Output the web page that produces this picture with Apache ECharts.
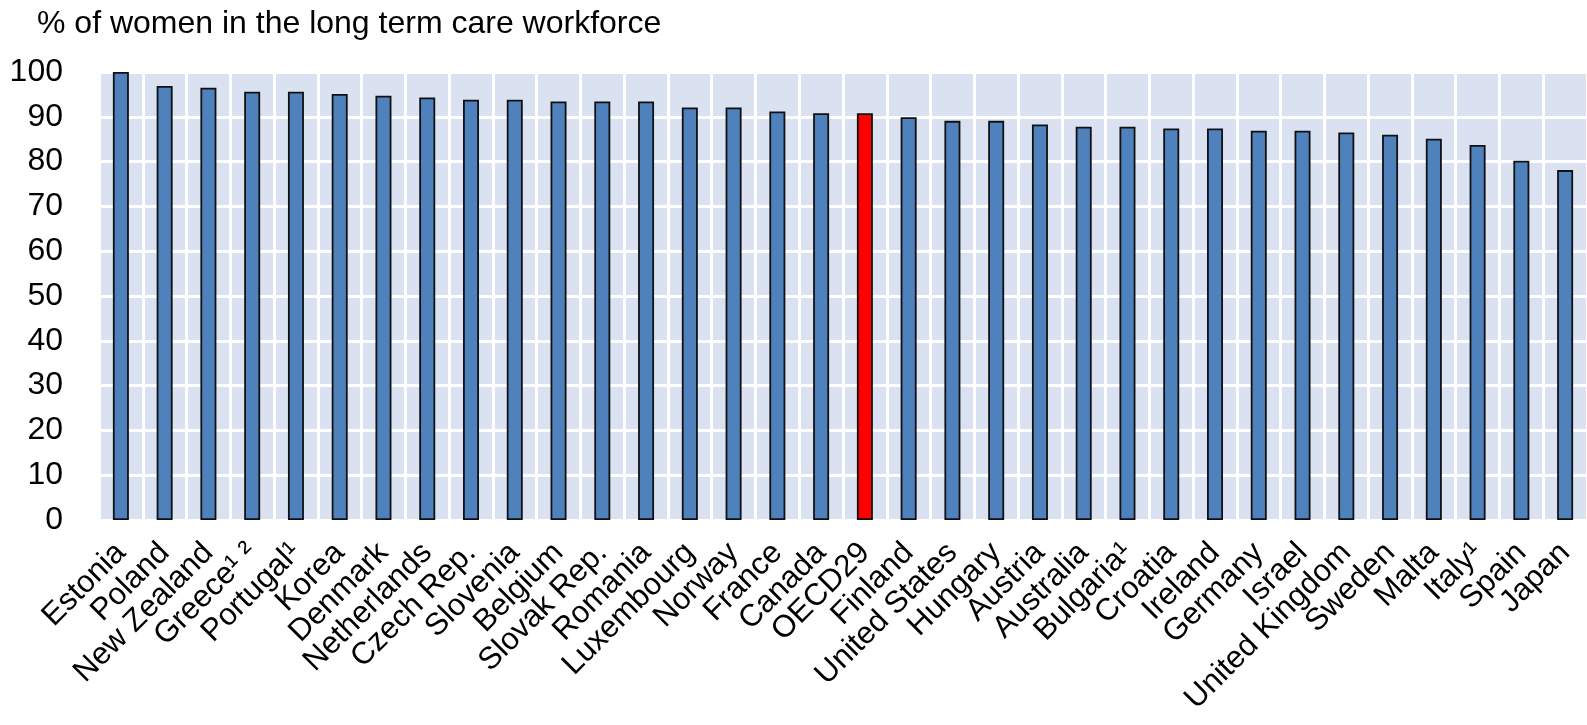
<!DOCTYPE html>
<html>
<head>
<meta charset="utf-8">
<script src="https://cdn.jsdelivr.net/npm/echarts@6/dist/echarts.min.js"></script>
<style>
html,body{margin:0;padding:0;background:#fff;}
#chart{width:1587px;height:725px;}
</style>
</head>
<body>
<div id="chart"></div>
<script>
const categories = ["Estonia","Poland","New Zealand","Greece¹ ²","Portugal¹","Korea","Denmark","Netherlands","Czech Rep.","Slovenia","Belgium","Slovak Rep.","Romania","Luxembourg","Norway","France","Canada","OECD29","Finland","United States","Hungary","Austria","Australia","Bulgaria¹","Croatia","Ireland","Germany","Israel","United Kingdom","Sweden","Malta","Italy¹","Spain","Japan"];
const values = [100,96.9,96.5,95.6,95.6,95.1,94.7,94.3,93.8,93.8,93.4,93.4,93.4,92.1,92.1,91.2,90.8,90.8,89.9,89.1,89.1,88.3,87.8,87.8,87.4,87.4,86.9,86.9,86.5,86.0,85.1,83.7,80.2,78.1];
const highlight = "OECD29";
const yTicks = {min:0, max:100, interval:10};
const titleText = "% of women in the long term care workforce";

const FONT = "Liberation Sans, Arial, sans-serif";
const chart = echarts.init(document.getElementById('chart'), null, {renderer:'canvas'});
chart.setOption({
  animation:false,
  backgroundColor:'#ffffff',
  title:{text:titleText, left:32, top:3, textStyle:{fontFamily:FONT, fontSize:32, fontWeight:'normal', color:'#000'}},
  grid:{left:99, top:72, bottom:205, width:1493, show:true, backgroundColor:'#dae2f2', borderWidth:0, containLabel:false},
  xAxis:{type:'category', data:categories, boundaryGap:true,
    axisLine:{show:false}, axisTick:{show:false},
    splitLine:{show:true, interval:0, lineStyle:{color:'#ffffff', width:3}},
    axisLabel:{interval:0, rotate:45, margin:28, fontFamily:FONT, fontSize:31, color:'#000'}},
  yAxis:{type:'value', min:yTicks.min, max:yTicks.max, interval:yTicks.interval,
    axisLine:{show:false}, axisTick:{show:false},
    splitLine:{show:true, lineStyle:{color:'#ffffff', width:3}},
    axisLabel:{margin:36, fontFamily:FONT, fontSize:32, color:'#000'}},
  series:[{type:'bar', barWidth:16,
    data:values.map((v,i)=>({value:v, itemStyle: categories[i]===highlight ? {color:'#ff0000'} : undefined})),
    itemStyle:{color:'#4f81bd', borderColor:'#111', borderWidth:1.8}}]
});
</script>
</body>
</html>
